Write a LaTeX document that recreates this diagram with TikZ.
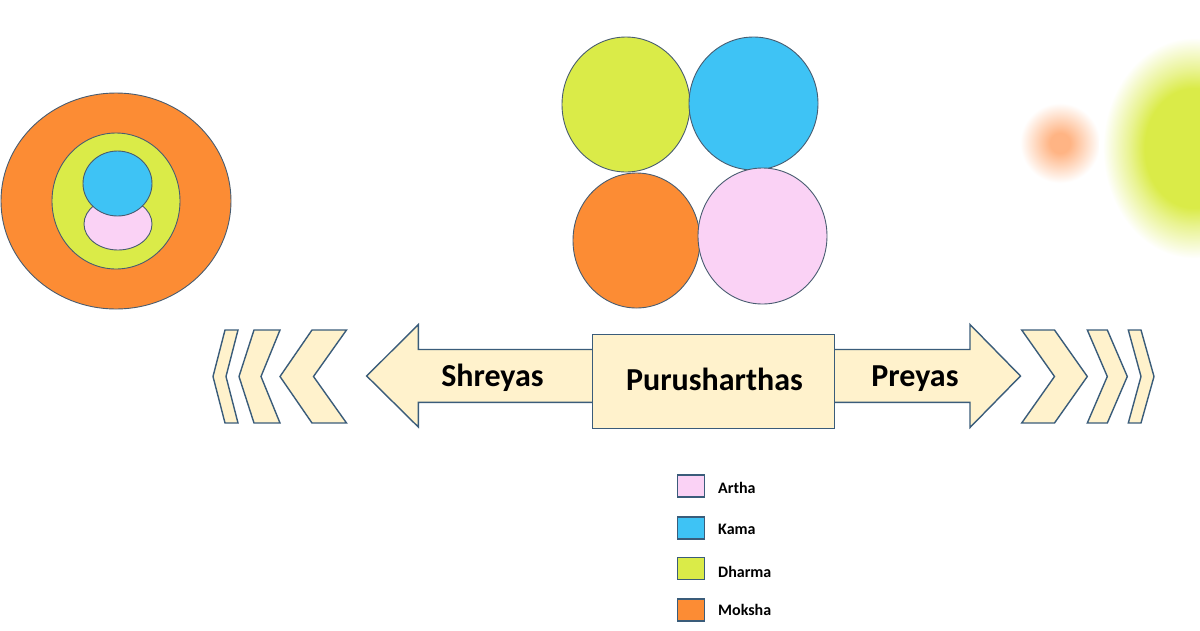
\documentclass[tikz,border=0pt]{standalone}
\usepackage{fontspec}
\setmainfont{Carlito}
\definecolor{cream}{RGB}{255,242,204}
\definecolor{edge}{RGB}{58,92,122}
\definecolor{cedge}{RGB}{72,92,112}
\definecolor{lime}{RGB}{218,235,72}
\definecolor{sky}{RGB}{62,195,245}
\definecolor{orng}{RGB}{252,140,52}
\definecolor{pnk}{RGB}{250,210,245}
\definecolor{orblur}{RGB}{255,180,132}
\definecolor{limeblur}{RGB}{218,235,72}
\pgfdeclareradialshading{blurorange}{\pgfpoint{0bp}{0bp}}{color(0bp)=(orblur); color(5bp)=(orblur); color(11bp)=(orblur!60!white); color(20bp)=(white); color(50bp)=(white)}
\pgfdeclareradialshading{blurlime}{\pgfpoint{0bp}{0bp}}{color(0bp)=(limeblur); color(13bp)=(limeblur); color(17bp)=(limeblur!60!white); color(24bp)=(white); color(50bp)=(white)}
\tikzset{
  circ/.style={draw=cedge, line width=0.9pt},
  creamshape/.style={draw=edge, fill=cream, line width=1.4pt, line join=miter},
  bigtext/.style={font=\bfseries\fontsize{32}{36}\selectfont, anchor=base},
  legbox/.style={draw=edge, line width=1.2pt, minimum width=27pt, minimum height=22pt, inner sep=0pt},
  legtext/.style={font=\bfseries\fontsize{16}{18}\selectfont, anchor=west, inner sep=0pt}
}
\begin{document}
\begin{tikzpicture}[x=1pt,y=-1pt]
\useasboundingbox (0,0) rectangle (1200,630);
\begin{scope}
\clip (0,0) rectangle (1200,630);
% blurred shapes
\path[shading=blurorange] (1060,143) circle (50);
\path[shading=blurlime] (1194,148) ellipse (95 and 115);
\end{scope}
% left concentric circles
\draw[circ, fill=orng] (116,201) ellipse (115 and 108);
\draw[circ, fill=lime] (116,201) ellipse (64 and 68);
\draw[circ, fill=pnk] (118,224) ellipse (34 and 26);
\draw[circ, fill=sky] (117.5,183.5) ellipse (34.5 and 32.5);
% four circles
\draw[circ, fill=lime] (626,104.5) ellipse (64 and 67.5);
\draw[circ, fill=sky] (753.5,103.5) ellipse (64.5 and 66.5);
\draw[circ, fill=orng] (636.5,240.5) ellipse (63.5 and 67.5);
\draw[circ, fill=pnk] (762.5,236) ellipse (64.5 and 68);
% left chevrons
\draw[creamshape] (225,330) -- (238,330) -- (226,376.5) -- (238,423) -- (225,423) -- (213,376.5) -- cycle;
\draw[creamshape] (254,330) -- (280,330) -- (261,376.5) -- (280,423) -- (254,423) -- (239,376.5) -- cycle;
\draw[creamshape] (312,330) -- (346.5,330) -- (313.5,376.5) -- (346.5,423) -- (312,423) -- (280,376.5) -- cycle;
% right chevrons
\draw[creamshape] (1021.7,330) -- (1054.5,330) -- (1087.3,376.5) -- (1054.5,423) -- (1021.7,423) -- (1054.5,376.5) -- cycle;
\draw[creamshape] (1087.3,330) -- (1107.3,330) -- (1127.3,376.5) -- (1107.3,423) -- (1087.3,423) -- (1107.3,376.5) -- cycle;
\draw[creamshape] (1128.3,330) -- (1141,330) -- (1154,376.5) -- (1141,423) -- (1128.3,423) -- (1141,376.5) -- cycle;
% arrows
\draw[creamshape] (600,349.5) -- (418.3,349.5) -- (418.3,324.5) -- (366.7,376) -- (418.3,427) -- (418.3,402.3) -- (600,402.3);
\draw[creamshape] (830,349.5) -- (970,349.5) -- (970,324.5) -- (1020.5,376) -- (970,427.5) -- (970,402.3) -- (830,402.3);
\node[creamshape, minimum width=242pt, minimum height=93.5pt, inner sep=0pt] (pur) at (713.5,381.5) {};
\node[bigtext] (purt) at (714.5,390) {Purusharthas};
\node[bigtext] (shr) at (492.5,386.5) {Shreyas};
\node[bigtext] (pre) at (915,386.5) {Preyas};
% legend
\node[legbox, fill=pnk] (la) at (691,486) {};
\node[legbox, fill=sky] (lk) at (691,528) {};
\node[legbox, fill=lime] (ld) at (691,568.5) {};
\node[legbox, fill=orng] (lm) at (691,610) {};
\node[legtext] (ta) at (718,488) {Artha};
\node[legtext] (tk) at (718,529.5) {Kama};
\node[legtext] (td) at (718,572) {Dharma};
\node[legtext] (tm) at (718,610) {Moksha};
\end{tikzpicture}
\end{document}
